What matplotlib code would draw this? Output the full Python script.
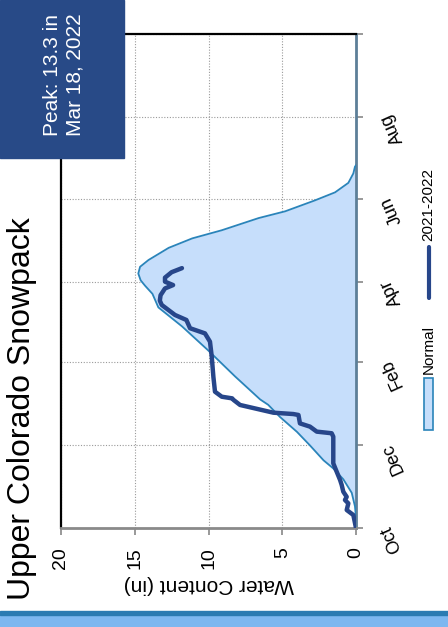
import matplotlib
matplotlib.use("Agg")
import matplotlib.pyplot as plt
from matplotlib.patches import Rectangle
from matplotlib.lines import Line2D
from matplotlib.transforms import offset_copy

plt.rcParams['font.family'] = ['Liberation Sans', 'DejaVu Sans']

# day of water year (Oct 1 = 0) and snow water equivalent (in)
normal_days = [0, 10, 16, 26, 36, 44, 50, 61, 71, 82, 91, 95, 112, 131, 149,
               163, 173, 179, 183, 188, 193, 198, 207, 214, 220, 229, 234,
               242, 248, 255, 262, 267, 268]
normal_swe = [0, 0.02, 0.07, 0.29, 0.86, 1.54, 2.2, 3.12, 4.0, 5.15, 5.95, 6.5,
              8.2, 10.0, 11.8, 13.4, 13.8, 14.3, 14.6, 14.76, 14.64, 14.07,
              12.7, 11.1, 9.1, 6.6, 4.8, 2.8, 1.42, 0.52, 0.18, 0.07, 0]

cur_days = [0, 9.6, 13.3, 18.2, 20.7, 23, 26.8, 31.8, 35.5, 41.6, 47.8, 67.5,
            70, 71.2, 74.9, 77.3, 83.5, 84.2, 85.2, 90.9, 94.6, 95.8, 97,
            100.7, 111.8, 126.6, 137.7, 143.8, 147.6, 153.7, 157.4, 164.8,
            168, 172, 177, 179.5, 182, 185, 189, 192]
cur_swe = [0, 0.18, 0.63, 0.52, 0.75, 0.63, 0.86, 0.97, 1.08, 1.31, 1.54, 1.54,
           1.65, 2.66, 3.12, 3.8, 3.9, 4.25, 5.6, 7.86, 8.3, 8.4, 9.1,
           9.56, 9.67, 9.78, 9.9, 10.24, 11.25, 11.5, 12.27, 13.17,
           13.3, 13.25, 12.95, 12.4, 12.95, 12.95, 12.5, 11.8]

month_days = [0, 61, 123, 182, 243, 304, 365]
month_labels = ['Oct', 'Dec', 'Feb', 'Apr', 'Jun', 'Aug', '']
swe_ticks = [20, 15, 10, 5, 0]

W, H = 448, 627
fig = plt.figure(figsize=(W / 100, H / 100), dpi=100)
ax = fig.add_axes([61 / W, 1 - 528 / H, (356 - 61) / W, (528 - 34) / H])

ax.fill_betweenx(normal_days, normal_swe, 0, color='#c6defb', lw=0, zorder=2)
ax.plot(normal_swe, normal_days, color='#2a84ba', lw=1.3, zorder=3)
ax.plot(cur_swe, cur_days, color='#27468a', lw=3.2, zorder=4,
        solid_joinstyle='round', solid_capstyle='round')

ax.set_xlim(20, 0)
ax.set_ylim(0, 365)
ax.set_axisbelow(True)
ax.grid(True, linestyle=(0, (1, 1.5)), color='#9a9a9a', lw=0.8)

ax.set_xticks(swe_ticks)
ax.set_xticklabels([str(t) for t in swe_ticks], rotation=90, fontsize=14)
ax.set_xlabel('Water Content (in)', rotation=180, fontsize=15, labelpad=4)
ax.tick_params(axis='x', direction='out', length=5, width=1.2,
               color='#888888', pad=9)

# month ticks on the right, labels drawn as slanted text
ax.yaxis.tick_right()
ax.set_yticks(month_days)
ax.set_yticklabels([])
ax.tick_params(axis='y', direction='out', length=5, width=1.2,
               color='#888888')
lab_trans = offset_copy(ax.get_yaxis_transform(), fig=fig, x=30, y=2,
                        units='dots')
for d, m in zip(month_days, month_labels):
    ax.text(1, d, m, transform=lab_trans, fontsize=13, rotation=114,
            rotation_mode='anchor', ha='right', va='center', clip_on=False)

ax.spines['left'].set_color('black')
ax.spines['left'].set_linewidth(1.6)
ax.spines['top'].set_color('black')
ax.spines['top'].set_linewidth(1.6)
ax.spines['right'].set_color('#5d7f98')
ax.spines['right'].set_linewidth(2)
ax.spines['bottom'].set_color('#8a8a8a')
ax.spines['bottom'].set_linewidth(2)

# title
fig.text(22 / W, 1 - 409 / H, 'Upper Colorado Snowpack', rotation=90,
         fontsize=23, ha='center', va='center')

# peak box
fig.patches.append(Rectangle((0, 1 - 158 / H), 124 / W, 158 / H,
                             transform=fig.transFigure, color='#284a87',
                             zorder=5))
fig.text(64 / W, 1 - 75 / H, 'Peak: 13.3 in\nMar 18, 2022', rotation=90,
         fontsize=15, color='white', ha='center', va='center',
         multialignment='center', zorder=6)

# legend
fig.patches.append(Rectangle((424 / W, 1 - 430 / H), 9 / W, 52 / H,
                             transform=fig.transFigure, facecolor='#c6defb',
                             edgecolor='#2a84ba', lw=1.2))
fig.text(428.5 / W, 1 - 374 / H, 'Normal', rotation=90, fontsize=11,
         ha='center', va='bottom')
fig.lines.append(Line2D([428.5 / W, 428.5 / W], [1 - 298 / H, 1 - 247 / H],
                        transform=fig.transFigure, color='#27468a', lw=3,
                        solid_capstyle='round'))
fig.text(428.5 / W, 1 - 241 / H, '2021-2022', rotation=90, fontsize=11,
         ha='center', va='bottom')

# bottom stripe
fig.patches.append(Rectangle((0, 0), 1, 12 / H, transform=fig.transFigure,
                             color='#7db7f0'))
fig.patches.append(Rectangle((0, 12 / H), 1, 4 / H, transform=fig.transFigure,
                             color='#2b7bb2'))

fig.savefig('out.png', dpi=100)
